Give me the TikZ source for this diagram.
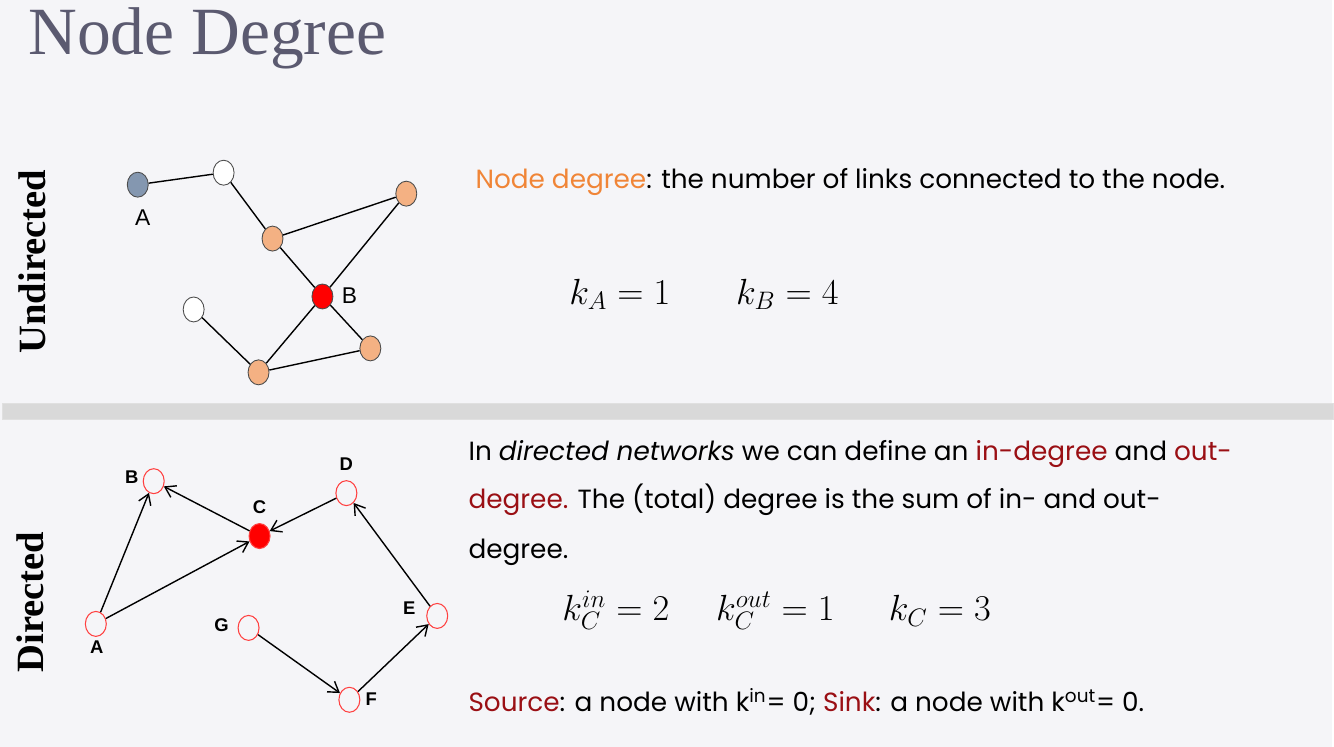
\documentclass[tikz,border=0pt]{standalone}
\usepackage{fontspec}
\setmainfont{Liberation Serif}
\setsansfont{Poppins}
\newfontfamily\labelfont{Liberation Sans}
\usetikzlibrary{shapes.geometric,arrows.meta}

\definecolor{pagebg}{HTML}{F5F5F8}
\definecolor{titlegray}{HTML}{5B5A70}
\definecolor{bandgray}{HTML}{D9D9D9}
\definecolor{nodeorange}{HTML}{F4B183}
\definecolor{nodeslate}{HTML}{8497B0}
\definecolor{accentorange}{HTML}{F08537}
\definecolor{darkred}{HTML}{9A0F14}

\tikzset{
  vert/.style={ellipse, draw=black!70, line width=0.5pt, minimum width=0.42cm, minimum height=0.5cm, inner sep=0pt},
  dvert/.style={ellipse, draw=red!75, line width=0.6pt, minimum width=0.42cm, minimum height=0.5cm, inner sep=0pt},
  link/.style={black, line width=0.8pt},
  arc/.style={black, line width=0.8pt, -{Straight Barb[length=2mm,width=2.6mm]}},
  ulabel/.style={font=\labelfont\fontsize{13}{13}\selectfont, inner sep=0pt},
  dlabel/.style={font=\labelfont\bfseries\fontsize{10.5}{10.5}\selectfont, inner sep=0pt},
  side/.style={font=\bfseries\fontsize{22}{22}\selectfont, rotate=90, inner sep=0pt},
  body/.style={font=\sffamily\fontsize{15}{15}\selectfont, anchor=base west, inner sep=0pt},
  formula/.style={font=\fontsize{20.5}{20.5}\selectfont, anchor=base west, inner sep=0pt}
}

\begin{document}
\begin{tikzpicture}[x=0.02cm, y=-0.02cm]
    % page and title
    \fill[pagebg] (0,0) rectangle (1334,748);
    \node[anchor=base west, inner sep=0pt, text=titlegray, font=\fontsize{38.5}{38.5}\selectfont] (title) at (28,55) {Node Degree};

    % separator band
    \draw[black!12, fill=bandgray] (2,404) rectangle (1336,420);

    % side labels
    \node[side] (undir) at (32,262) {Undirected};
    \node[side] (dir) at (30,603) {Directed};

    % undirected network
    \node[vert, fill=nodeslate] (uA) at (138,185) {};
    \node[vert, fill=white] (uTop) at (224,173) {};
    \node[vert, fill=nodeorange] (uMid) at (273,239) {};
    \node[vert, fill=nodeorange] (uRight) at (407,194) {};
    \node[vert, fill=red] (uB) at (323,297) {};
    \node[vert, fill=white] (uLeft) at (194,310) {};
    \node[vert, fill=nodeorange] (uLowR) at (371,349) {};
    \node[vert, fill=nodeorange] (uLow) at (259,373) {};
    \node[ulabel] (lA) at (143,218) {A};
    \node[ulabel] (lB) at (350,296) {B};

    \draw[link] (uA) -- (uTop);
    \draw[link] (uTop) -- (uMid);
    \draw[link] (uMid) -- (uRight);
    \draw[link] (uMid) -- (uB);
    \draw[link] (uRight) -- (uB);
    \draw[link] (uB) -- (uLowR);
    \draw[link] (uB) -- (uLow);
    \draw[link] (uLeft) -- (uLow);
    \draw[link] (uLow) -- (uLowR);

    % directed network
    \node[dvert] (dA) at (96,625) {};
    \node[dvert] (dB) at (154,482) {};
    \node[dvert, fill=red] (dC) at (260,537) {};
    \node[dvert] (dD) at (347,494) {};
    \node[dvert] (dE) at (438,617) {};
    \node[dvert] (dF) at (350,701) {};
    \node[dvert] (dG) at (249,629) {};
    \node[dlabel] (tA) at (97,648) {A};
    \node[dlabel] (tB) at (132,478) {B};
    \node[dlabel] (tC) at (260,508) {C};
    \node[dlabel] (tD) at (347,465) {D};
    \node[dlabel] (tE) at (410,609) {E};
    \node[dlabel] (tF) at (372,700) {F};
    \node[dlabel] (tG) at (222,626) {G};

    \draw[arc] (dA) -- (dB);
    \draw[arc] (dA) -- (dC);
    \draw[arc] (dC) -- (dB);
    \draw[arc] (dD) -- (dC);
    \draw[arc] (dE) -- (dD);
    \draw[arc] (dG) -- (dF);
    \draw[arc] (dF) -- (dE);

    % undirected text
    \node[body] (defn) at (476,189) {\textcolor{accentorange}{Node degree}: the number of links connected to the node.};
    \node[formula] (kA) at (570,305) {$k_A = 1$};
    \node[formula] (kB) at (737,305) {$k_B = 4$};

    % directed text
    \node[body] (par1) at (469,461) {In \textit{directed networks} we can define an \textcolor{darkred}{in-degree} and \textcolor{darkred}{out-}};
    \node[body] (par2) at (469,509) {\textcolor{darkred}{degree.} The (total) degree is the sum of in- and out-};
    \node[body] (par3) at (469,559) {degree.};
    \node[formula] (kin) at (563,622) {$k_C^{in} = 2$};
    \node[formula] (kout) at (717,622) {$k_C^{out} = 1$};
    \node[formula] (kC) at (890,622) {$k_C = 3$};
    \node[body] (srcsink) at (469,713) {\textcolor{darkred}{Source}: a node with k\textsuperscript{in}= 0; \textcolor{darkred}{Sink}: a node with k\textsuperscript{out}= 0.};
\end{tikzpicture}
\end{document}
